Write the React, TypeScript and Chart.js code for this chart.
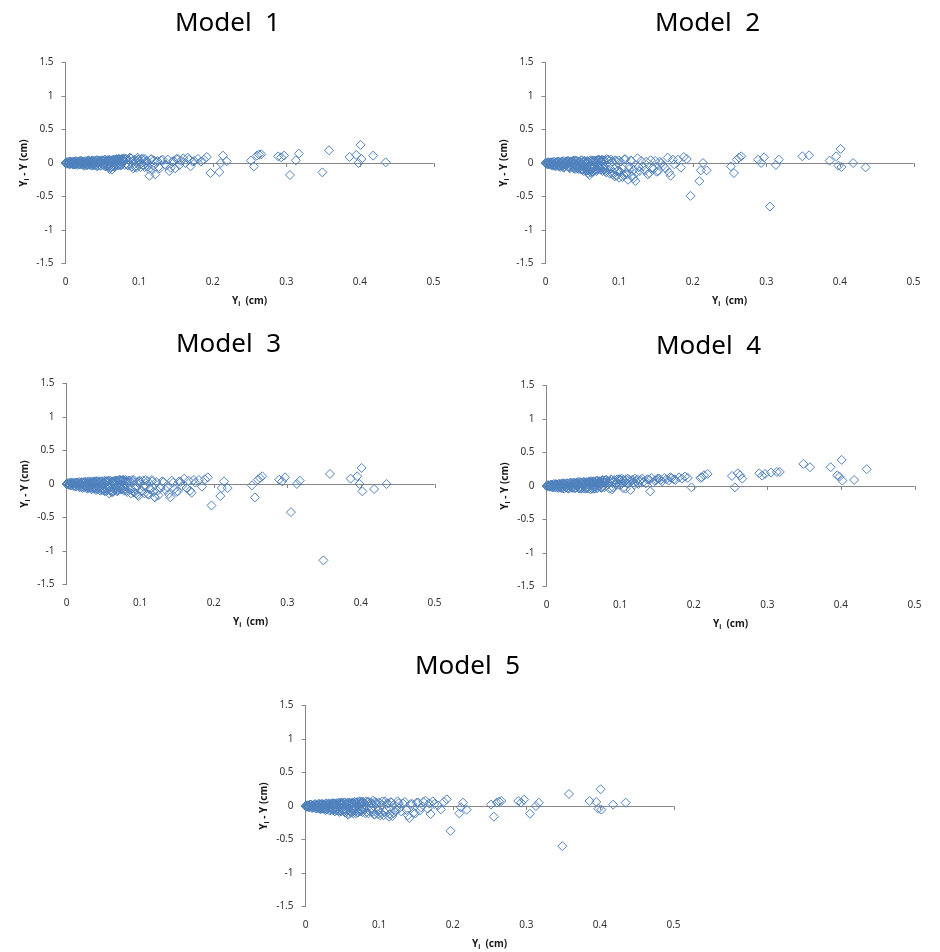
import React, { useEffect, useRef } from "react";
import { Chart, registerables } from "chart.js";

Chart.register(...registerables);

// Observed values Yi (cm) — shared x for every model
const observed = [
  0.000, 0.002, 0.004, 0.005, 0.006, 0.008, 0.009, 0.010, 0.012, 0.013,
  0.014, 0.016, 0.017, 0.018, 0.020, 0.021, 0.022, 0.024, 0.025, 0.027,
  0.028, 0.030, 0.031, 0.033, 0.034, 0.036, 0.037, 0.039, 0.040, 0.042,
  0.043, 0.045, 0.046, 0.048, 0.049, 0.051, 0.052, 0.054, 0.055, 0.057,
  0.058, 0.060, 0.061, 0.063, 0.065, 0.066, 0.068, 0.070, 0.072, 0.074,
  0.076, 0.078, 0.080, 0.083, 0.086, 0.089, 0.092, 0.094, 0.096, 0.098,
  0.100, 0.102, 0.104, 0.106, 0.108, 0.110, 0.112, 0.114, 0.116, 0.118,
  0.120, 0.122, 0.125, 0.128, 0.132, 0.137, 0.141, 0.145, 0.149, 0.153,
  0.157, 0.160, 0.163, 0.166, 0.170, 0.175, 0.180, 0.184, 0.188, 0.192,
  0.197, 0.209, 0.211, 0.214, 0.219, 0.252, 0.256, 0.260, 0.263, 0.266,
  0.289, 0.293, 0.297, 0.305, 0.313, 0.317, 0.349, 0.358, 0.386, 0.395,
  0.398, 0.401, 0.402, 0.418, 0.435,
];

const observedExtra = [
  0.001, 0.003, 0.007, 0.011, 0.015, 0.019, 0.023, 0.026, 0.029, 0.032,
  0.035, 0.038, 0.041, 0.044, 0.047, 0.050, 0.053, 0.056, 0.059, 0.062,
  0.064, 0.067, 0.069, 0.071, 0.073, 0.075, 0.077, 0.079, 0.0015, 0.0045,
  0.0075, 0.0105, 0.0135, 0.0165, 0.0195, 0.0225, 0.0255, 0.0285, 0.0315, 0.0345,
  0.0375, 0.0405, 0.0435, 0.0465, 0.0495, 0.0525, 0.0555, 0.0585, 0.0615, 0.0645,
  0.0675, 0.0705, 0.0735, 0.0765, 0.0795, 0.0815, 0.0845, 0.0875, 0.0905, 0.0935,
  0.0965, 0.0995, 0.1015, 0.1045, 0.1075, 0.1105, 0.1135, 0.1165, 0.1195, 0.1235,
  0.1265, 0.130, 0.135, 0.139, 0.143, 0.147, 0.151, 0.155, 0.168, 0.173,
];

const observedExtra2 = [
  0.0005, 0.0025, 0.0035, 0.0055, 0.0065, 0.0085, 0.0095, 0.0115, 0.0125, 0.0145,
  0.0155, 0.0175, 0.0185, 0.0205, 0.0215, 0.0235, 0.0245, 0.0265, 0.0275, 0.0295,
  0.0305, 0.0325, 0.0335, 0.0355, 0.0365, 0.0385, 0.0395, 0.0415, 0.0425, 0.0445,
  0.0455, 0.0475, 0.0485, 0.0505, 0.0515, 0.0535, 0.0545, 0.0565, 0.0575, 0.0595,
  0.0605, 0.0625, 0.0635, 0.0655, 0.0665, 0.0685, 0.0695, 0.0715, 0.0725, 0.0745,
  0.0755, 0.0775, 0.0785, 0.0805, 0.0825, 0.0855, 0.0885, 0.0915, 0.0945, 0.0985,
];

// Residuals Yi - Y (cm)
const model1 = [
  0.00, 0.01, -0.01, 0.02, -0.02, 0.01, 0.00, -0.02, 0.02, -0.01,
  0.03, -0.03, 0.01, 0.02, -0.02, 0.03, -0.01, 0.02, -0.04, 0.03,
  0.00, -0.03, 0.04, -0.02, 0.02, -0.04, 0.03, 0.01, -0.03, 0.04,
  -0.05, 0.02, 0.03, -0.04, 0.04, -0.02, 0.03, -0.05, 0.02, 0.04,
  -0.06, -0.09, 0.03, -0.10, 0.05, -0.05, 0.04, 0.02, 0.06, -0.03,
  0.05, 0.03, 0.07, -0.02, 0.04, 0.07, -0.08, 0.05, -0.04, 0.08,
  0.02, -0.06, 0.05, -0.03, 0.06, 0.01, -0.05, -0.19, 0.05, -0.10,
  0.04, -0.17, 0.03, -0.08, 0.05, -0.04, -0.12, 0.02, -0.08, 0.06,
  0.03, 0.07, 0.00, 0.08, -0.05, 0.03, 0.06, 0.02, 0.05, 0.09,
  -0.15, -0.135, 0.00, 0.11, 0.025, 0.035, -0.05, 0.11, 0.125, 0.13,
  0.10, 0.085, 0.11, -0.18, 0.04, 0.14, -0.14, 0.19, 0.09, 0.12,
  0.00, 0.27, 0.06, 0.11, 0.01,
];
const model1Extra = [
  0.01, -0.01, 0.02, -0.02, 0.01, -0.02, 0.02, -0.03, 0.02, -0.01,
  0.03, -0.03, 0.02, -0.04, 0.03, -0.02, 0.04, -0.04, 0.03, -0.05,
  0.04, -0.06, 0.05, -0.03, 0.06, -0.04, 0.05, 0.02, 0.00, 0.01,
  -0.01, 0.02, -0.02, 0.01, 0.03, -0.02, 0.02, -0.03, 0.03, -0.01,
  0.02, -0.03, 0.04, -0.02, 0.03, -0.04, 0.02, 0.04, -0.07, 0.03,
  -0.04, 0.05, -0.02, 0.06, 0.04, 0.06, -0.03, 0.08, -0.05, 0.04,
  -0.07, 0.05, -0.02, 0.07, -0.06, 0.03, -0.09, 0.06, -0.04, 0.02,
  -0.06, 0.04, -0.02, 0.05, -0.07, 0.03, 0.06, -0.03, 0.05, 0.02,
];
const model1Extra2 = [
  0.00, 0.01, -0.01, 0.01, -0.01, 0.02, -0.01, 0.01, -0.02, 0.02,
  -0.01, 0.02, -0.02, 0.01, 0.03, -0.02, 0.02, -0.03, 0.01, 0.03,
  -0.02, 0.03, -0.03, 0.02, 0.04, -0.02, 0.03, -0.03, 0.04, -0.01,
  0.03, -0.04, 0.02, 0.04, -0.03, 0.05, -0.02, 0.04, -0.04, 0.05,
  -0.03, 0.04, -0.05, 0.03, 0.05, -0.02, 0.06, -0.03, 0.05, 0.03,
  -0.02, 0.06, 0.04, -0.03, 0.06, -0.04, 0.07, 0.03, -0.06, 0.05,
];

const model2 = [
  0.00, -0.01, 0.01, -0.02, 0.00, -0.03, 0.01, -0.04, 0.02, -0.02,
  -0.05, 0.01, -0.03, 0.02, -0.06, 0.00, -0.04, 0.03, -0.07, -0.02,
  0.02, -0.05, 0.03, -0.08, -0.03, 0.02, -0.06, 0.04, -0.09, -0.02,
  0.03, -0.07, 0.01, -0.10, 0.04, -0.05, -0.12, 0.02, -0.08, 0.03,
  -0.15, -0.18, -0.06, 0.04, -0.13, -0.03, 0.02, -0.09, 0.05, -0.04,
  0.03, -0.07, 0.04, 0.06, -0.10, 0.05, -0.14, -0.20, 0.03, -0.12,
  -0.22, 0.02, -0.08, -0.18, 0.06, -0.15, -0.25, -0.05, 0.04, -0.20,
  -0.10, -0.27, 0.07, -0.12, -0.05, 0.02, -0.15, -0.08, 0.03, -0.12,
  0.00, -0.04, -0.08, 0.08, -0.19, -0.02, 0.05, -0.07, 0.09, 0.06,
  -0.49, -0.27, -0.11, 0.00, -0.11, -0.05, -0.15, 0.05, 0.08, 0.10,
  0.05, 0.00, 0.085, -0.65, -0.03, 0.05, 0.10, 0.115, 0.035, 0.10,
  -0.04, 0.21, -0.06, 0.00, -0.065,
];
const model2Extra = [
  0.00, -0.02, 0.01, -0.03, 0.01, -0.04, 0.02, -0.05, 0.01, -0.06,
  0.02, -0.07, 0.03, -0.05, 0.01, -0.09, 0.03, -0.06, -0.11, 0.02,
  -0.08, 0.03, -0.12, -0.04, 0.04, -0.10, 0.02, -0.05, -0.01, 0.00,
  -0.02, 0.01, -0.03, 0.02, -0.04, 0.00, -0.05, 0.02, -0.06, 0.01,
  -0.07, 0.03, -0.08, 0.02, -0.09, 0.03, -0.11, 0.01, -0.14, 0.03,
  -0.10, 0.04, -0.06, 0.05, -0.08, -0.12, 0.05, -0.16, 0.02, -0.09,
  -0.19, 0.04, -0.13, -0.21, 0.05, -0.17, -0.09, 0.03, -0.23, -0.14,
  -0.06, 0.03, -0.11, -0.17, 0.04, -0.09, -0.13, 0.02, -0.14, 0.05,
];
const model2Extra2 = [
  0.00, -0.01, 0.01, -0.02, 0.00, -0.03, 0.01, -0.02, -0.04, 0.01,
  -0.03, 0.02, -0.05, -0.01, 0.02, -0.04, -0.06, 0.01, -0.03, 0.03,
  -0.05, -0.07, 0.02, -0.04, 0.03, -0.08, -0.02, 0.03, -0.06, -0.09,
  0.02, -0.05, 0.04, -0.10, -0.03, 0.03, -0.07, -0.11, 0.02, -0.05,
  0.04, -0.09, -0.13, 0.03, -0.06, 0.04, -0.10, -0.03, 0.05, -0.08,
  0.03, -0.12, 0.04, -0.07, -0.14, 0.05, -0.09, -0.17, 0.04, -0.11,
];

const model3 = [
  0.00, 0.01, -0.01, 0.02, -0.02, 0.00, -0.03, 0.01, 0.02, -0.04,
  0.01, -0.02, 0.03, -0.05, 0.00, 0.02, -0.06, 0.03, -0.03, 0.01,
  -0.07, 0.04, -0.02, 0.02, -0.08, 0.03, -0.04, 0.04, -0.09, 0.01,
  -0.05, 0.03, -0.10, 0.04, -0.06, 0.02, -0.11, 0.04, -0.07, 0.05,
  -0.14, -0.09, 0.03, -0.12, 0.04, -0.06, 0.05, -0.03, 0.06, -0.08,
  0.05, -0.02, 0.06, 0.04, -0.08, 0.06, -0.13, -0.04, 0.03, -0.18,
  0.02, -0.10, 0.05, -0.14, -0.03, 0.04, -0.16, -0.08, 0.06, -0.12,
  -0.20, 0.03, -0.17, -0.06, 0.03, -0.05, -0.20, 0.02, -0.12, 0.04,
  -0.03, 0.08, -0.06, 0.05, -0.13, 0.02, 0.06, -0.04, 0.07, 0.10,
  -0.32, -0.18, -0.06, 0.04, -0.06, -0.02, -0.20, 0.065, 0.09, 0.115,
  0.065, 0.04, 0.10, -0.42, 0.00, 0.05, -1.14, 0.15, 0.08, 0.115,
  0.00, 0.24, -0.11, -0.075, 0.00,
];
const model3Extra = [
  0.01, -0.01, 0.02, -0.02, 0.01, -0.03, 0.02, -0.04, 0.03, -0.05,
  0.02, -0.06, 0.04, -0.04, 0.03, -0.08, 0.04, -0.05, -0.10, 0.04,
  -0.07, 0.05, -0.11, -0.03, 0.06, -0.08, 0.05, -0.04, 0.00, -0.01,
  0.01, -0.02, 0.02, -0.03, 0.01, -0.04, 0.03, -0.05, 0.02, -0.06,
  0.03, -0.07, 0.04, -0.08, 0.02, -0.10, 0.04, -0.06, -0.12, 0.03,
  -0.09, 0.05, -0.05, 0.06, -0.07, -0.10, 0.05, -0.14, 0.03, -0.07,
  -0.16, 0.05, -0.11, -0.04, 0.06, -0.15, -0.07, 0.04, -0.19, -0.10,
  -0.05, 0.04, -0.09, -0.15, 0.05, -0.07, -0.11, 0.03, -0.10, 0.06,
];
const model3Extra2 = [
  0.00, 0.01, -0.01, 0.01, -0.02, 0.00, 0.02, -0.03, 0.01, -0.02,
  0.02, -0.04, 0.01, 0.03, -0.03, -0.05, 0.02, 0.03, -0.04, 0.01,
  -0.06, 0.03, -0.02, 0.04, -0.07, 0.02, -0.04, 0.04, -0.08, 0.03,
  -0.05, 0.04, -0.09, 0.02, 0.05, -0.06, -0.10, 0.04, -0.03, 0.05,
  -0.08, 0.03, -0.11, 0.05, -0.05, 0.04, -0.09, 0.06, -0.04, 0.05,
  -0.07, 0.06, -0.10, 0.04, -0.12, 0.05, -0.08, 0.06, -0.14, 0.04,
];

const model4 = [
  0.00, 0.01, -0.01, 0.01, 0.02, -0.02, 0.01, 0.03, -0.02, 0.02,
  0.00, -0.03, 0.03, 0.01, -0.03, 0.04, 0.02, -0.04, 0.03, 0.00,
  0.04, -0.04, 0.02, 0.05, -0.02, 0.03, 0.05, -0.03, 0.04, 0.01,
  0.06, -0.02, 0.05, 0.03, -0.04, 0.06, 0.02, 0.05, -0.03, 0.06,
  0.04, -0.05, 0.07, 0.03, 0.06, -0.01, 0.08, 0.04, 0.07, 0.02,
  0.09, 0.05, 0.08, 0.03, 0.07, -0.05, 0.09, 0.04, 0.10, 0.02,
  0.08, 0.11, -0.03, 0.06, 0.10, 0.04, 0.09, -0.06, 0.08, 0.05,
  0.11, 0.07, 0.03, 0.09, 0.06, 0.10, -0.08, 0.05, 0.09, 0.11,
  0.07, 0.12, 0.10, 0.08, 0.12, 0.09, 0.13, 0.11, 0.14, 0.12,
  -0.02, 0.12, 0.13, 0.16, 0.18, 0.15, -0.02, 0.19, 0.16, 0.11,
  0.19, 0.155, 0.18, 0.20, 0.21, 0.21, 0.33, 0.28, 0.28, 0.16,
  0.14, 0.39, 0.08, 0.09, 0.25,
];
const model4Extra = [
  0.00, 0.01, -0.01, 0.02, -0.02, 0.02, 0.03, -0.02, 0.03, 0.01,
  -0.03, 0.04, 0.02, -0.03, 0.05, 0.01, -0.04, 0.05, 0.03, -0.04,
  0.06, 0.02, -0.03, 0.07, 0.04, -0.02, 0.08, 0.05, 0.01, 0.00,
  0.02, -0.01, 0.02, 0.03, -0.02, 0.03, 0.01, -0.03, 0.04, 0.02,
  -0.03, 0.05, 0.02, -0.04, 0.05, 0.03, -0.03, 0.06, 0.02, -0.04,
  0.07, 0.03, -0.02, 0.08, 0.05, 0.09, 0.04, 0.10, -0.02, 0.08,
  0.05, 0.10, 0.03, 0.09, -0.04, 0.11, 0.06, 0.09, 0.02, 0.10,
  0.07, 0.11, 0.04, 0.10, 0.12, 0.08, 0.11, 0.09, 0.13, 0.10,
];
const model4Extra2 = [
  0.00, 0.01, 0.00, -0.01, 0.02, 0.01, -0.02, 0.02, 0.03, -0.01,
  0.02, -0.02, 0.03, 0.01, -0.03, 0.04, 0.02, -0.02, 0.04, 0.01,
  -0.03, 0.05, 0.02, -0.02, 0.05, 0.03, -0.03, 0.05, 0.01, -0.04,
  0.06, 0.03, -0.02, 0.06, 0.04, -0.03, 0.06, 0.02, -0.04, 0.07,
  0.04, -0.02, 0.07, 0.03, -0.04, 0.08, 0.05, 0.01, 0.07, -0.03,
  0.08, 0.05, -0.02, 0.09, 0.06, -0.04, 0.09, 0.07, 0.02, 0.10,
];

const model5 = [
  0.00, -0.01, 0.01, -0.02, 0.02, 0.00, -0.03, 0.01, -0.01, 0.03,
  -0.04, 0.02, -0.02, 0.03, -0.05, 0.01, 0.03, -0.04, 0.02, -0.06,
  0.04, -0.01, 0.03, -0.07, 0.02, 0.04, -0.05, 0.03, -0.08, 0.04,
  -0.03, 0.05, -0.09, 0.02, 0.04, -0.06, 0.05, -0.10, 0.03, -0.04,
  -0.13, 0.05, -0.08, 0.04, -0.11, 0.03, -0.05, 0.06, -0.02, 0.07,
  -0.06, 0.05, 0.03, -0.09, 0.06, -0.04, 0.08, -0.12, 0.03, -0.07,
  0.05, -0.10, 0.02, -0.14, 0.07, -0.05, 0.04, -0.12, 0.06, -0.15,
  0.02, -0.08, 0.07, -0.03, 0.04, -0.06, -0.18, 0.03, -0.11, 0.05,
  -0.02, 0.06, 0.08, -0.04, -0.12, 0.03, 0.01, -0.05, 0.06, 0.10,
  -0.37, -0.11, -0.02, 0.05, -0.055, 0.02, -0.16, 0.05, 0.065, 0.075,
  0.075, 0.05, 0.095, -0.115, 0.00, 0.05, -0.60, 0.18, 0.075, 0.06,
  -0.04, 0.25, -0.055, 0.02, 0.05,
];
const model5Extra = [
  0.01, -0.01, 0.02, -0.02, 0.01, -0.03, 0.02, -0.04, 0.03, -0.02,
  0.03, -0.05, 0.02, -0.06, 0.04, -0.03, 0.05, -0.07, 0.03, -0.09,
  0.04, -0.06, 0.05, -0.10, 0.03, -0.05, 0.06, -0.03, 0.00, -0.01,
  0.02, -0.02, 0.01, -0.03, 0.03, -0.04, 0.02, -0.05, 0.03, -0.03,
  0.04, -0.06, 0.03, -0.07, 0.05, -0.08, 0.04, -0.11, 0.02, -0.06,
  0.05, -0.09, 0.03, 0.06, -0.04, -0.11, 0.06, -0.08, 0.04, -0.13,
  0.05, -0.06, -0.14, 0.07, -0.09, 0.03, -0.16, 0.05, -0.11, -0.05,
  0.04, -0.08, 0.06, -0.14, 0.03, -0.10, 0.05, -0.07, 0.04, 0.07,
];
const model5Extra2 = [
  0.00, -0.01, 0.01, -0.01, 0.02, -0.02, 0.01, -0.02, 0.02, -0.03,
  0.01, 0.03, -0.03, 0.02, -0.04, 0.03, 0.01, -0.04, 0.03, -0.05,
  0.02, 0.04, -0.05, 0.03, -0.06, 0.04, 0.01, -0.06, 0.04, -0.07,
  0.03, 0.05, -0.08, 0.02, -0.05, 0.05, -0.09, 0.03, 0.05, -0.07,
  0.04, -0.10, 0.05, -0.04, 0.06, -0.11, 0.03, -0.06, 0.06, -0.08,
  0.04, -0.09, 0.06, -0.05, 0.07, -0.11, 0.05, -0.08, 0.06, -0.12,
];

const panelTitles = ["Model  1", "Model  2", "Model  3", "Model  4", "Model  5"];
const residualSets = [
  [model1, model1Extra, model1Extra2],
  [model2, model2Extra, model2Extra2],
  [model3, model3Extra, model3Extra2],
  [model4, model4Extra, model4Extra2],
  [model5, model5Extra, model5Extra2],
];
const observedSets = [observed, observedExtra, observedExtra2];
const xTickValues = [0, 0.1, 0.2, 0.3, 0.4, 0.5];
const yTickValues = [-1.5, -1, -0.5, 0, 0.5, 1, 1.5];

const AXIS = "#868686";
const MARK = "#4F81BD";
const TICK_FONT = { family: "'Noto Sans', sans-serif", size: 10 };

type Seg = { t: string; sub?: boolean };

function drawRich(ctx: CanvasRenderingContext2D, segs: Seg[]) {
  const main = "bold 10px 'Noto Sans', sans-serif";
  const small = "bold 7px 'Noto Sans', sans-serif";
  let total = 0;
  for (const s of segs) {
    ctx.font = s.sub ? small : main;
    total += ctx.measureText(s.t).width;
  }
  let x = -total / 2;
  ctx.textAlign = "left";
  ctx.textBaseline = "middle";
  for (const s of segs) {
    ctx.font = s.sub ? small : main;
    ctx.fillText(s.t, x, s.sub ? 3 : 0);
    x += ctx.measureText(s.t).width;
  }
}

function makeDecor(title: string) {
  return {
    id: "decor",
    afterDatasetsDraw(chart: any) {
      const { ctx, scales } = chart;
      const y0 = scales.y.getPixelForValue(0);
      ctx.save();
      ctx.strokeStyle = AXIS;
      ctx.lineWidth = 1;
      for (const v of xTickValues) {
        if (v === 0) continue;
        const px = Math.round(scales.x.getPixelForValue(v)) + 0.5;
        ctx.beginPath();
        ctx.moveTo(px, Math.round(y0));
        ctx.lineTo(px, Math.round(y0) + 4);
        ctx.stroke();
      }
      ctx.restore();
    },
    afterDraw(chart: any) {
      const { ctx, chartArea } = chart;
      ctx.save();
      ctx.fillStyle = "#000";
      ctx.font = "26px 'Noto Sans', sans-serif";
      ctx.textAlign = "center";
      ctx.textBaseline = "alphabetic";
      ctx.fillText(title, chartArea.left + 162, chartArea.top - 32);

      ctx.fillStyle = "#1a1a1a";
      ctx.save();
      ctx.translate((chartArea.left + chartArea.right) / 2, chartArea.bottom + 37.5);
      drawRich(ctx, [{ t: "Y" }, { t: "i", sub: true }, { t: "  (cm)" }]);
      ctx.restore();
      ctx.save();
      ctx.translate(chartArea.left - 41.5, (chartArea.top + chartArea.bottom) / 2);
      ctx.rotate(-Math.PI / 2);
      drawRich(ctx, [{ t: "Y" }, { t: "i", sub: true }, { t: " - Y (cm)" }]);
      ctx.restore();
      ctx.restore();
    },
  };
}

function Panel({ index, left, top }: { index: number; left: number; top: number }) {
  const ref = useRef<HTMLCanvasElement>(null);
  useEffect(() => {
    const sets = residualSets[index];
    const points: { x: number; y: number }[] = [];
    observedSets.forEach((xs, k) => {
      xs.forEach((x, i) => points.push({ x, y: sets[k][i] }));
    });
    const chart = new Chart(ref.current as HTMLCanvasElement, {
      type: "scatter",
      data: {
        datasets: [
          {
            data: points,
            pointStyle: "rectRot",
            pointRadius: 4.5,
            pointHoverRadius: 4.5,
            borderColor: MARK,
            backgroundColor: "rgba(0,0,0,0)",
            borderWidth: 1,
            clip: false as any,
          },
        ],
      },
      options: {
        responsive: false,
        animation: false,
        devicePixelRatio: 1,
        events: [],
        layout: { padding: { left: 0, top: 62.5, right: 36.5, bottom: 26.5 } },
        plugins: {
          legend: { display: false },
          tooltip: { enabled: false },
          title: { display: false },
        },
        scales: {
          x: {
            type: "linear",
            position: "bottom",
            min: 0,
            max: 0.5,
            afterBuildTicks: (s: any) => {
              s.ticks = xTickValues.map((v) => ({ value: v }));
            },
            ticks: {
              padding: 12.5,
              font: TICK_FONT,
              color: "#333",
              callback: (v: any) => String(Number(Number(v).toFixed(1))),
            },
            grid: { display: false, drawTicks: false },
            border: { display: false },
            afterFit: (s: any) => {
              s.height = 30;
            },
          },
          y: {
            type: "linear",
            min: -1.5,
            max: 1.5,
            afterBuildTicks: (s: any) => {
              s.ticks = yTickValues.map((v) => ({ value: v }));
            },
            ticks: {
              padding: 8,
              font: TICK_FONT,
              color: "#333",
              callback: (v: any) => String(Number(Number(v).toFixed(1))),
            },
            grid: {
              display: true,
              drawTicks: true,
              tickLength: 4,
              lineWidth: 1,
              tickColor: AXIS,
              color: (c: any) => (c.tick && c.tick.value === 0 ? AXIS : "rgba(0,0,0,0)"),
            },
            border: { display: true, color: AXIS, width: 1 },
            afterFit: (s: any) => {
              s.width = 65.5;
            },
          },
        },
      } as any,
      plugins: [makeDecor(panelTitles[index]) as any],
    });
    return () => chart.destroy();
  }, [index]);
  return (
    <canvas
      ref={ref}
      width={470}
      height={320}
      style={{ position: "absolute", left, top, width: 470, height: 320, display: "block" }}
    />
  );
}

const panelPositions = [
  { left: 0, top: 0 },
  { left: 480, top: 0 },
  { left: 1, top: 321 },
  { left: 481, top: 322.5 },
  { left: 240, top: 643 },
];

export default function App() {
  return (
    <div style={{ position: "absolute", left: 0, top: 0, width: 940, height: 952, background: "#fff" }}>
      {panelPositions.map((p, i) => (
        <Panel key={i} index={i} left={p.left} top={p.top} />
      ))}
    </div>
  );
}
